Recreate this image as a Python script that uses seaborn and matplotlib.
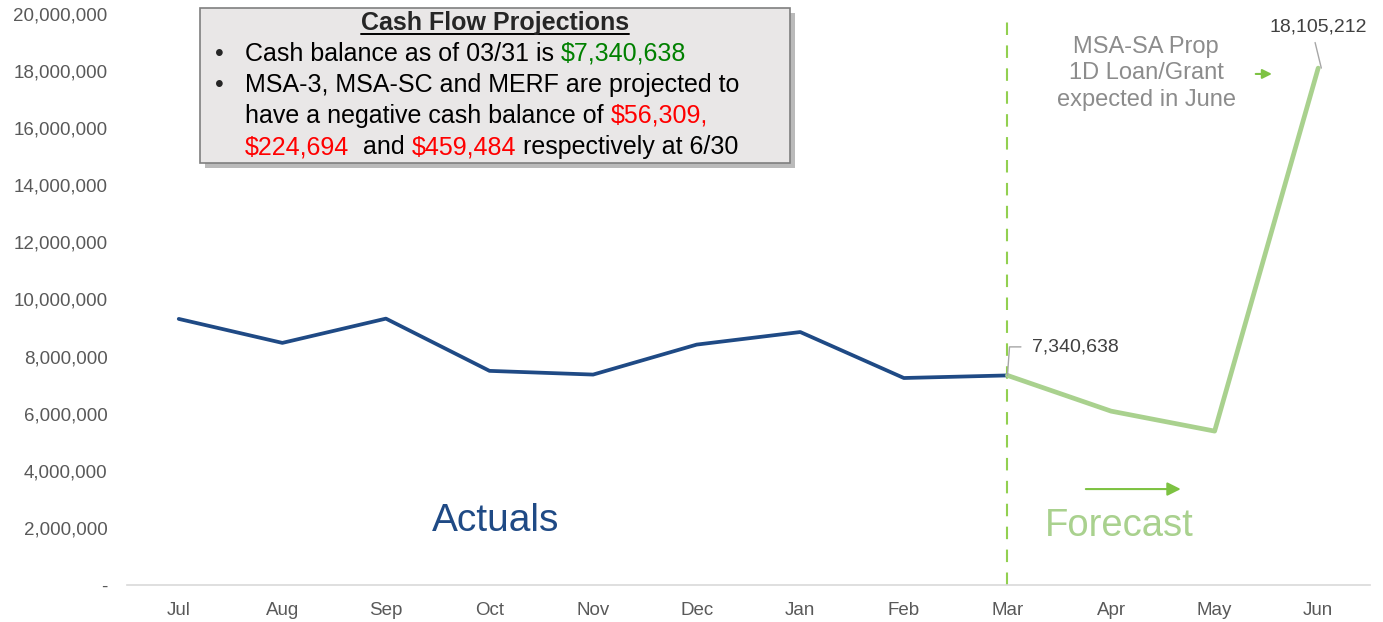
import pandas as pd
import matplotlib.pyplot as plt
import seaborn as sns
from matplotlib.patches import Rectangle
from matplotlib.lines import Line2D

# Dados
meses = ['Jul', 'Aug', 'Sep', 'Oct', 'Nov', 'Dec', 'Jan', 'Feb', 'Mar', 'Apr', 'May', 'Jun']
saldo_real = [9320000, 8480000, 9330000, 7500000, 7370000, 8420000, 8860000, 7250000, 7340638]
saldo_previsto = [7340638, 6090000, 5390000, 18105212]
yticks = [0, 2000000, 4000000, 6000000, 8000000, 10000000, 12000000, 14000000, 16000000, 18000000, 20000000]

azul = '#1f4a85'
verde = '#a9d18e'
verde_seta = '#7dc242'

sns.set_style('white')
plt.rcParams['font.family'] = ['Liberation Sans', 'DejaVu Sans']

real = pd.DataFrame({'x': range(len(saldo_real)), 'valor': saldo_real})
prev = pd.DataFrame({'x': range(len(saldo_real) - 1, len(meses)), 'valor': saldo_previsto})

fig = plt.figure(figsize=(13.83, 6.22), dpi=100)
ax = fig.add_axes([0.0918, 0.0595, 0.8988, 0.918])

sns.lineplot(data=real, x='x', y='valor', color=azul, linewidth=2.7, ax=ax)
sns.lineplot(data=prev, x='x', y='valor', color=verde, linewidth=3.4, ax=ax)

ax.set_xlim(-0.5, len(meses) - 0.5)
ax.set_ylim(0, 20000000)
ax.set_xticks(range(len(meses)))
ax.set_xticklabels(meses)
ax.set_yticks(yticks)
ax.set_yticklabels(['-' if v == 0 else f'{v:,}' for v in yticks])
ax.tick_params(axis='both', length=0, labelsize=13.5, labelcolor='#595959')
ax.tick_params(axis='y', pad=14)
ax.tick_params(axis='x', pad=12)
ax.set_xlabel('')
ax.set_ylabel('')
for s in ['top', 'right', 'left']:
    ax.spines[s].set_visible(False)
ax.spines['bottom'].set_color('#d9d9d9')
ax.spines['bottom'].set_linewidth(1.2)

# linha vertical tracejada em Mar
ax.axvline(8, color='#92d050', linestyle=(0, (6, 5)), linewidth=1.5, zorder=0)

# rótulos dos valores
ax.text(8.24, 8340000, f'{saldo_real[-1]:,}', fontsize=14, color='#404040', va='center')
ax.plot([8.0, 8.02, 8.13], [7340638, 8340000, 8340000], color='#a6a6a6', linewidth=1)
ax.text(11.0, 19550000, f'{saldo_previsto[-1]:,}', fontsize=14, color='#404040', va='center', ha='center')
ax.plot([10.97, 11.03], [19000000, 18105212], color='#a6a6a6', linewidth=1)

# textos Actuals / Forecast
ax.text(3.06, 2250000, 'Actuals', fontsize=28, color=azul, ha='center', va='center')
ax.text(9.08, 2050000, 'Forecast', fontsize=27.5, color=verde, ha='center', va='center')
ax.annotate('', xy=(9.7, 3360000), xytext=(8.73, 3360000),
            arrowprops=dict(arrowstyle='-|>', color=verde_seta, lw=1.5, mutation_scale=20))

ax.text(9.34, 17930000, 'MSA-SA Prop\n1D Loan/Grant\nexpected in June', fontsize=17,
        color='#8c8c8c', ha='center', va='center', linespacing=1.27)
ax.annotate('', xy=(10.58, 17900000), xytext=(10.37, 17900000),
            arrowprops=dict(arrowstyle='-|>', color=verde_seta, lw=1.5, mutation_scale=14))

# caixa de texto
W, H = 1383, 622
def fx(px):
    return px / W
def fy(py):
    return 1 - py / H

fig.patches.append(Rectangle((fx(205), fy(168)), fx(790) - fx(200), fy(8) - fy(163),
                             transform=fig.transFigure, facecolor='#8c8c8c', alpha=0.6,
                             edgecolor='none', zorder=1))
fig.patches.append(Rectangle((fx(200), fy(163)), fx(790) - fx(200), fy(8) - fy(163),
                             transform=fig.transFigure, facecolor='#e9e7e7',
                             edgecolor='#7f7f7f', linewidth=1.2, zorder=2))

fs = 18
titulo = fig.text(fx(495), fy(23), 'Cash Flow Projections', fontsize=fs, fontweight='bold',
                  ha='center', va='center', zorder=3)

renderer = fig.canvas.get_renderer()

def linha(py, partes, bullet=False):
    if bullet:
        fig.text(fx(215), fy(py), '•', fontsize=fs, va='baseline', zorder=3)
    x = fx(245)
    for txt, cor in partes:
        t = fig.text(x, fy(py), txt, color=cor, fontsize=fs, va='baseline', zorder=3)
        bb = t.get_window_extent(renderer)
        x = bb.x1 / W

linha(61, [('Cash balance as of 03/31 is ', 'black'), ('$7,340,638', '#008000')], bullet=True)
linha(92, [('MSA-3, MSA-SC and MERF are projected to', 'black')], bullet=True)
linha(123, [('have a negative cash balance of ', 'black'), ('$56,309,', '#ff0000')])
linha(154, [('$224,694', '#ff0000'), ('  and ', 'black'), ('$459,484', '#ff0000'),
            (' respectively at 6/30', 'black')])

# sublinhado do título
bb = titulo.get_window_extent(renderer).transformed(fig.transFigure.inverted())
fig.lines.append(Line2D([bb.x0, bb.x1], [bb.y0 + 0.002, bb.y0 + 0.002], transform=fig.transFigure,
                        color='black', linewidth=1.4, zorder=3))

plt.savefig('out.png', dpi=100)
